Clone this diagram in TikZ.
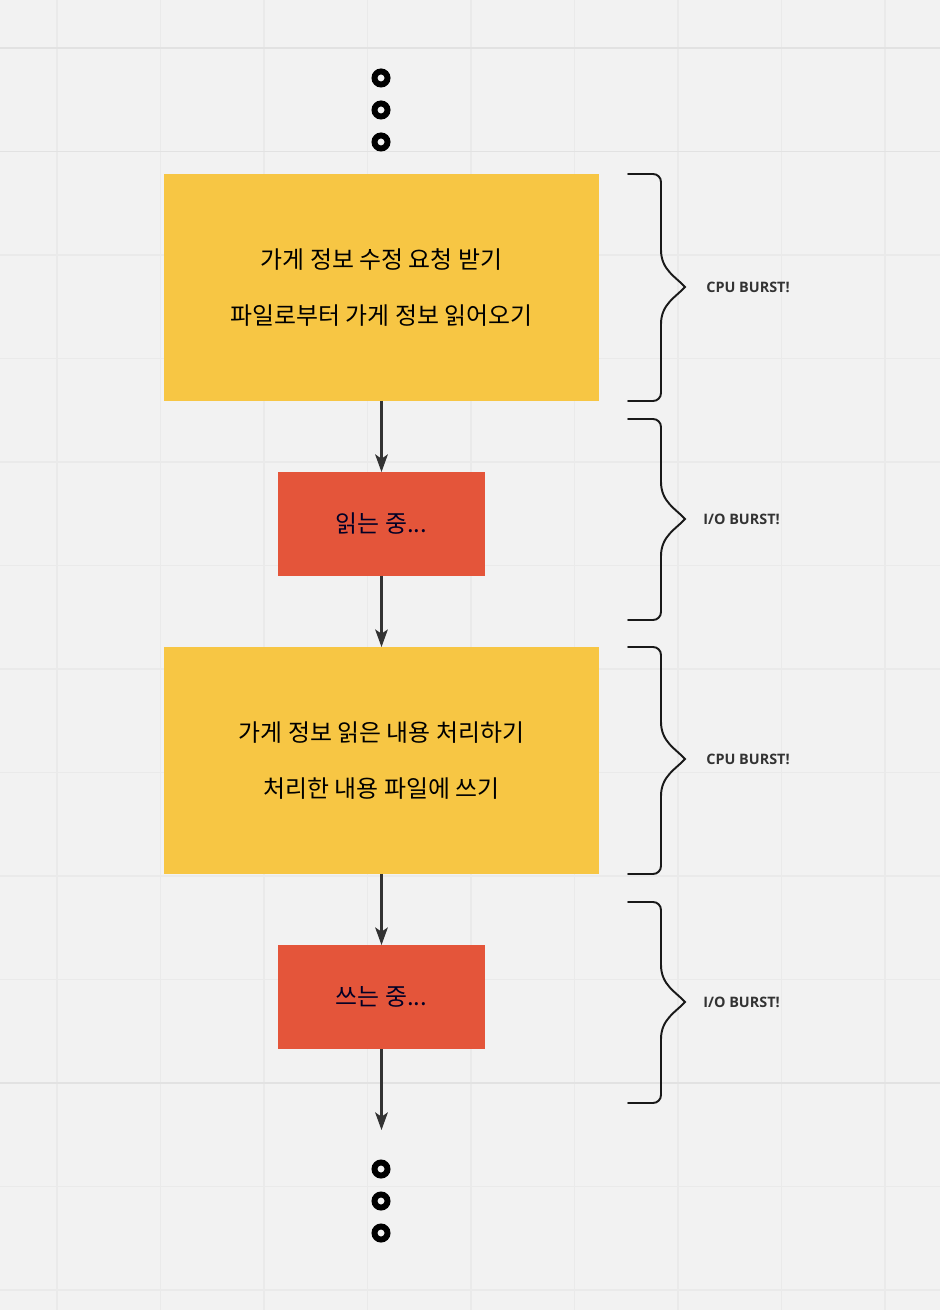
\documentclass[tikz,border=0pt]{standalone}
\usepackage{fontspec}
\newfontfamily\cjk{Noto Sans CJK KR}
\newfontfamily\burstfont{Open Sans}
\usetikzlibrary{arrows.meta}

\definecolor{boardbg}{HTML}{F2F2F2}
\definecolor{gridline}{HTML}{EAEAEA}
\definecolor{gridstrong}{HTML}{E2E2E2}
\definecolor{cpuyellow}{HTML}{F7C644}
\definecolor{ioorange}{HTML}{E4553A}
\definecolor{inkgray}{HTML}{333333}

\tikzset{
  gridrule/.style={draw=gridline, line width=0.9pt},
  gridmark/.style={draw=gridstrong, line width=1.1pt},
  cpubox/.style={fill=cpuyellow, minimum width=8.7cm, minimum height=4.54cm,
    inner sep=0pt, outer sep=0pt, align=center, text=black,
    font=\cjk\fontsize{13.6}{31.75}\selectfont},
  iobox/.style={fill=ioorange, minimum width=4.14cm, minimum height=2.08cm,
    inner sep=0pt, outer sep=0pt, text=black!85!blue,
    font=\cjk\fontsize{13.6}{15}\selectfont},
  flow/.style={draw=inkgray, line width=1.2pt,
    -{Stealth[length=10pt, width=7.2pt, inset=2.4pt]}},
  dotring/.style={circle, draw=black, line width=3.4pt, minimum size=0.26cm,
    inner sep=0pt},
  bracepath/.style={draw=black!90, line width=1.1pt, line cap=round},
  burstlabel/.style={anchor=west, inner sep=0pt, text=inkgray,
    font=\burstfont\bfseries\fontsize{8.2}{9}\selectfont},
}

% brace: #1 top, #2 bottom, #3 tip
\newcommand{\burstbrace}[3]{%
  \draw[bracepath] (628,#1) -- (653,#1) to[out=0,in=90] (661,#1+8)
    -- (661,#3-37) .. controls (661,#3-17) and (676,#3-10) .. (685,#3)
    .. controls (676,#3+10) and (661,#3+17) .. (661,#3+37)
    -- (661,#2-8) to[out=-90,in=0] (653,#2) -- (628,#2);
}

\begin{document}
\begin{tikzpicture}[x=0.02cm, y=-0.02cm]
  % Board
  \fill[boardbg] (0,0) rectangle (940,1310);
  \useasboundingbox (0,0) rectangle (940,1310);
  \foreach \gx in {0,...,8}
    \draw[gridrule] ({57+103.5*\gx},0) -- ({57+103.5*\gx},1310);
  \foreach \gy in {0,...,12}
    \draw[gridrule] (0,{48+103.5*\gy}) -- (940,{48+103.5*\gy});
  \foreach \gy in {0,1,10}
    \draw[gridmark] (0,{48+103.5*\gy}) -- (940,{48+103.5*\gy});

  % Ellipsis dots
  \foreach \dy [count=\di] in {78,110,142}
    \node[dotring] (topdot\di) at (381,\dy) {};
  \foreach \dy [count=\di] in {1169,1201,1233}
    \node[dotring] (enddot\di) at (381,\dy) {};

  % Steps
  \node[cpubox] (receive) at (381.5,287.5)
    {가게 정보 수정 요청 받기\\파일로부터 가게 정보 읽어오기};
  \node[iobox] (reading) at (381.5,524) {읽는 중...};
  \node[cpubox] (process) at (381.5,760.5)
    {가게 정보 읽은 내용 처리하기\\처리한 내용 파일에 쓰기};
  \node[iobox] (writing) at (381.5,997) {쓰는 중...};
  \coordinate (flowend) at (381.5,1130);

  \draw[flow] (receive) -- (reading);
  \draw[flow] (reading) -- (process);
  \draw[flow] (process) -- (writing);
  \draw[flow] (writing) -- (flowend);

  % Bursts
  \burstbrace{174}{401}{287}
  \burstbrace{419}{620}{519}
  \burstbrace{647}{874}{759}
  \burstbrace{902}{1103}{1002}
  \node[burstlabel] (cpu1) at (706,287) {CPU BURST!};
  \node[burstlabel] (io1) at (703,519) {I/O BURST!};
  \node[burstlabel] (cpu2) at (706,759) {CPU BURST!};
  \node[burstlabel] (io2) at (703,1002) {I/O BURST!};
\end{tikzpicture}
\end{document}
